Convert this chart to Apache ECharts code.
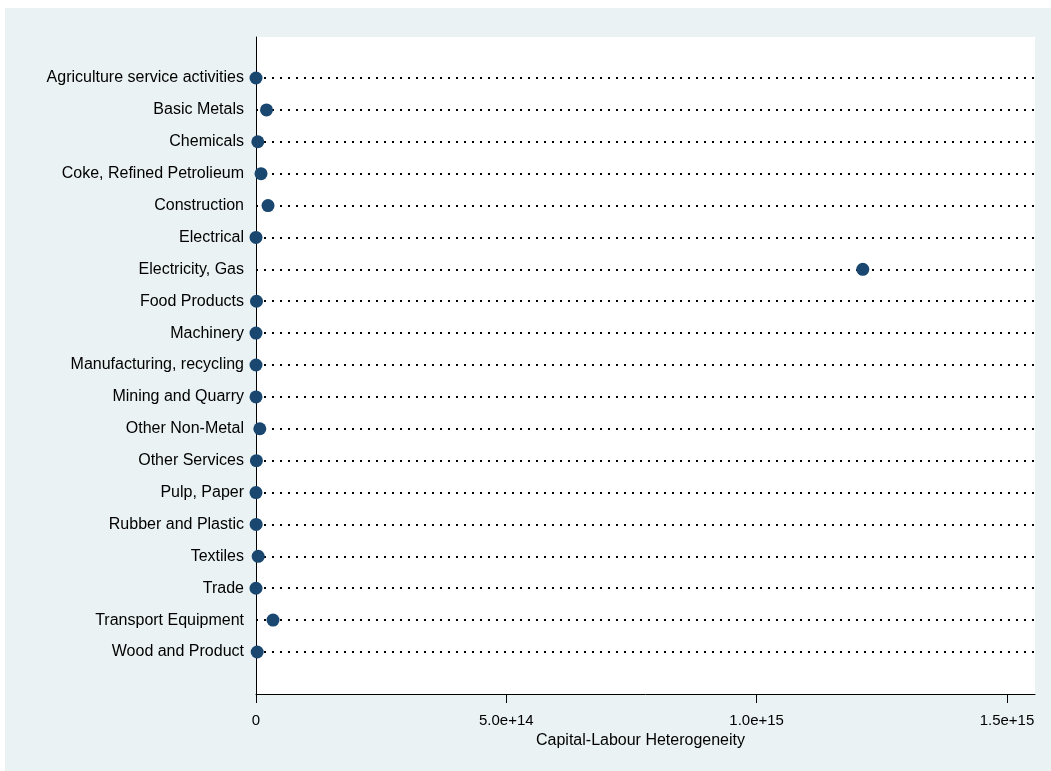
<!DOCTYPE html>
<html>
<head>
<meta charset="utf-8">
<script src="https://cdn.jsdelivr.net/npm/echarts@6/dist/echarts.min.js"></script>
<style>
html,body{margin:0;padding:0;background:#ffffff;}
#chart{width:1051px;height:771px;}
</style>
</head>
<body>
<div id="chart"></div>
<script>
const categories = [
  "Agriculture service activities","Basic Metals","Chemicals","Coke, Refined Petrolieum",
  "Construction","Electrical","Electricity, Gas","Food Products","Machinery",
  "Manufacturing, recycling","Mining and Quarry","Other Non-Metal","Other Services",
  "Pulp, Paper","Rubber and Plastic","Textiles","Trade","Transport Equipment","Wood and Product"
];
const values = [
  0, 2.1e13, 3.6e12, 1.0e13,
  2.4e13, 0, 1.212e15, 1.0e12, 0,
  0, 0, 7.6e12, 0.8e12,
  0, 0.3e12, 4.4e12, 0, 3.4e13, 2.4e12
];
const xTicks = [0, 5e14, 1e15, 1.5e15];
const xAxisTitle = "Capital-Labour Heterogeneity";

const xMin = 0, xMax = 1.556e15, xInterval = 5e14;
const font = "'Liberation Sans', Arial, Helvetica, sans-serif";
const fmt = v => {
  if (!xTicks.some(t => Math.abs(t - v) < 1e9)) return "";
  return v === 0 ? "0" : v.toExponential(1);
};

const chart = echarts.init(document.getElementById('chart'), null, {renderer: 'canvas'});
chart.setOption({
  animation: false,
  backgroundColor: '#ffffff',
  graphic: [{
    type: 'rect', z: -10, silent: true,
    shape: {x: 5, y: 8, width: 1046, height: 763},
    style: {fill: '#eaf2f3'}
  }],
  grid: [
    {left: 256, right: 16, top: 37, bottom: 77, show: true, backgroundColor: '#ffffff', borderWidth: 0, z: 0},
    {left: 256, right: 16, top: 78, bottom: 119}
  ],
  xAxis: [
    {
      gridIndex: 0, type: 'value', min: xMin, max: xMax, interval: xInterval,
      axisLine: {show: true, lineStyle: {color: '#000', width: 1}},
      axisTick: {show: true, length: 9, lineStyle: {color: '#000', width: 1}, customValues: xTicks},
      axisLabel: {color: '#000', fontFamily: font, fontSize: 15, margin: 19, formatter: fmt, customValues: xTicks},
      splitLine: {show: false},
      name: xAxisTitle, nameLocation: 'middle', nameGap: 36,
      nameTextStyle: {color: '#000', fontFamily: font, fontSize: 16, padding: [0, 10, 0, 0]}
    },
    {
      gridIndex: 1, type: 'value', min: xMin, max: xMax, interval: xInterval, show: false
    }
  ],
  yAxis: [
    {
      gridIndex: 0, type: 'value', min: 0, max: 1,
      axisLine: {show: true, onZero: false, lineStyle: {color: '#000', width: 1}},
      axisTick: {show: false}, axisLabel: {show: false}, splitLine: {show: false}
    },
    {
      gridIndex: 1, type: 'category', data: categories, inverse: true, boundaryGap: false,
      axisLine: {show: false}, axisTick: {show: false},
      axisLabel: {color: '#000', fontFamily: font, fontSize: 16, margin: 12, interval: 0},
      splitLine: {show: true, interval: 0, lineStyle: {color: '#000', width: 2, type: [2, 6], cap: 'butt'}}
    }
  ],
  series: [{
    type: 'scatter', xAxisIndex: 1, yAxisIndex: 1,
    data: values.map((v, i) => [v, categories[i]]),
    symbol: 'circle', symbolSize: 13,
    itemStyle: {color: '#1a476f', opacity: 1},
    z: 5
  }]
});
</script>
</body>
</html>
